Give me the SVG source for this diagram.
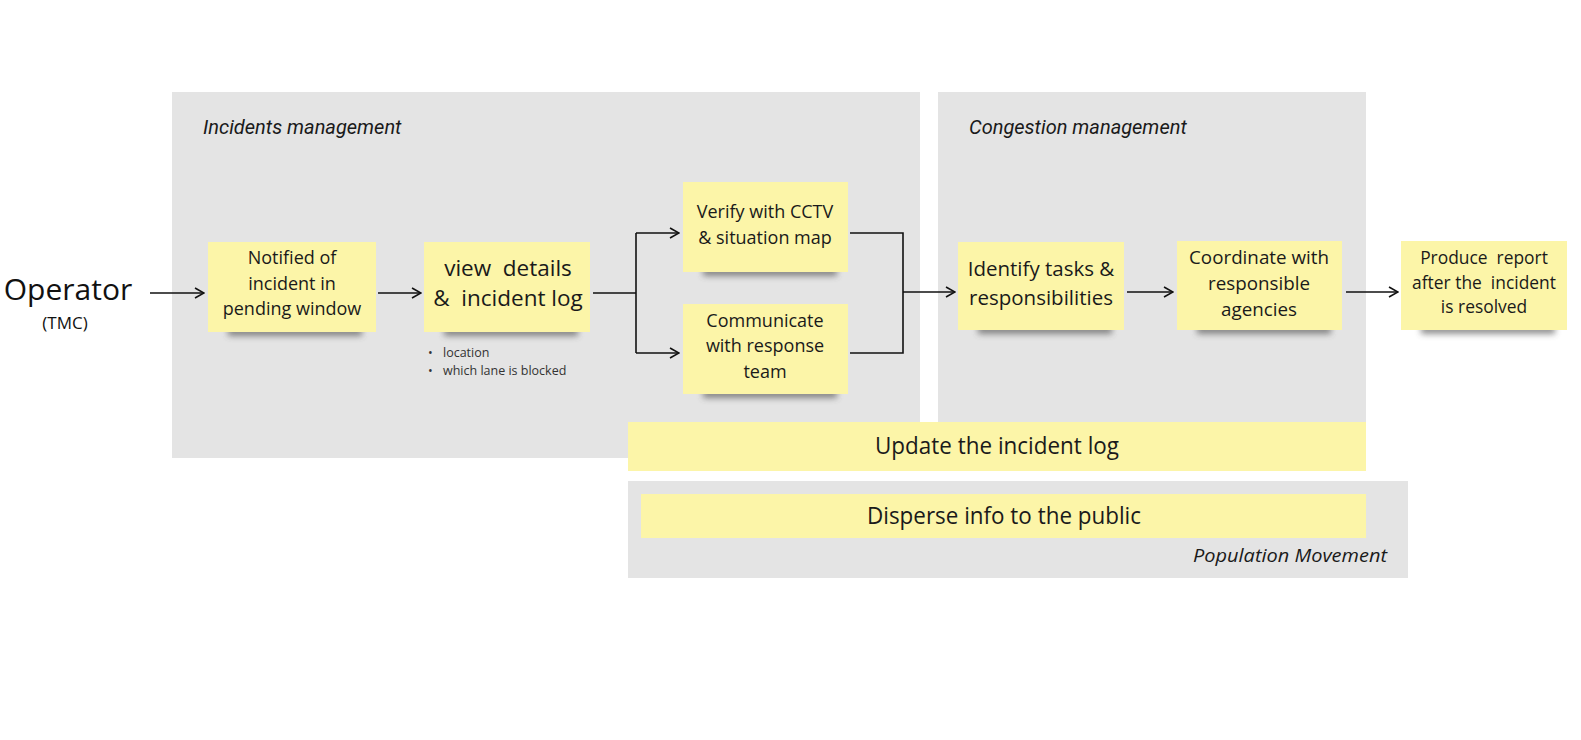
<svg xmlns="http://www.w3.org/2000/svg" width="1581" height="740" viewBox="0 0 1581 740">
<style>
.panel{fill:#e4e4e4}
.sticky{fill:#fcf5a8}
.st{font-family:"Open Sans","DejaVu Sans",sans-serif;fill:#1a1a1a;text-anchor:middle}
.lbl{font-family:Roboto,"Liberation Sans",sans-serif;font-style:italic;font-size:20px;fill:#1a1a1a}
.conn{fill:none;stroke:#111;stroke-width:1.6}
.shadow{fill:#444;opacity:0.6;filter:url(#blur)}
</style>
<defs>
<marker id="arr" viewBox="0 0 12 12" refX="11" refY="6" markerWidth="12" markerHeight="12" markerUnits="userSpaceOnUse" orient="auto">
<path d="M2,1 L11,6 L2,11" fill="none" stroke="#111" stroke-width="1.6"/>
</marker>
<filter id="blur" x="-20%" y="-100%" width="140%" height="300%"><feGaussianBlur stdDeviation="3"/></filter>
</defs>
<rect width="1581" height="740" fill="#ffffff"/>
<g id="panel-incidents">
<rect class="panel" x="172" y="92" width="748" height="366"/>
<text class="lbl" x="203" y="134">Incidents management</text>
</g>
<g id="panel-congestion">
<rect class="panel" x="938" y="92" width="428" height="330"/>
<text class="lbl" x="969" y="134">Congestion management</text>
</g>
<g id="panel-population">
<rect class="panel" x="628" y="481" width="780" height="97"/>
<text class="lbl" x="1387" y="562" text-anchor="end" style="font-family:'Open Sans',sans-serif;font-size:19px" textLength="194" lengthAdjust="spacingAndGlyphs">Population Movement</text>
</g>
<g id="operator">
<text x="68" y="300" style="font-family:'Open Sans',sans-serif;font-size:30px;fill:#111;text-anchor:middle">Operator</text>
<text x="65" y="329" style="font-family:'Open Sans',sans-serif;font-size:17px;fill:#111;text-anchor:middle">(TMC)</text>
</g>
<g id="notified">
<rect class="shadow" x="228" y="327" width="134" height="9"/>
<rect class="sticky" x="208" y="242" width="168" height="90"/>
<text class="st" font-size="18"><tspan x="292" y="264">Notified of</tspan><tspan x="292" y="290">incident in</tspan><tspan x="292" y="315">pending window</tspan></text>
</g>
<g id="view-details">
<rect class="shadow" x="444" y="327" width="134" height="9"/>
<rect class="sticky" x="424" y="242" width="166" height="90"/>
<text class="st" font-size="22.5" xml:space="preserve"><tspan x="508" y="276">view  details</tspan><tspan x="508" y="306">&amp;  incident log</tspan></text>
<text style="font-family:'Open Sans',sans-serif;font-size:12.5px;fill:#333"><tspan x="428" y="357">•</tspan><tspan x="443" y="357">location</tspan><tspan x="428" y="375">•</tspan><tspan x="443" y="375">which lane is blocked</tspan></text>
</g>
<g id="verify">
<rect class="shadow" x="703" y="267" width="134" height="9"/>
<rect class="sticky" x="683" y="182" width="165" height="90"/>
<text class="st" font-size="18"><tspan x="765" y="218">Verify with CCTV</tspan><tspan x="765" y="244">&amp; situation map</tspan></text>
</g>
<g id="communicate">
<rect class="shadow" x="703" y="389" width="134" height="9"/>
<rect class="sticky" x="683" y="304" width="165" height="90"/>
<text class="st" font-size="18"><tspan x="765" y="327">Communicate</tspan><tspan x="765" y="352">with response</tspan><tspan x="765" y="378">team</tspan></text>
</g>
<g id="identify">
<rect class="shadow" x="978" y="325" width="134" height="9"/>
<rect class="sticky" x="958" y="242" width="166" height="88"/>
<text class="st" font-size="20.5"><tspan x="1041" y="276">Identify tasks &amp;</tspan><tspan x="1041" y="305">responsibilities</tspan></text>
</g>
<g id="coordinate">
<rect class="shadow" x="1197" y="325" width="134" height="9"/>
<rect class="sticky" x="1177" y="241" width="165" height="89"/>
<text class="st" font-size="18.8"><tspan x="1259" y="264">Coordinate with</tspan><tspan x="1259" y="290">responsible</tspan><tspan x="1259" y="316">agencies</tspan></text>
</g>
<g id="produce">
<rect class="shadow" x="1421" y="325" width="134" height="9"/>
<rect class="sticky" x="1401" y="241" width="166" height="89"/>
<text class="st" font-size="17.4" xml:space="preserve"><tspan x="1484" y="264">Produce  report</tspan><tspan x="1484" y="289">after the  incident</tspan><tspan x="1484" y="313">is resolved</tspan></text>
</g>
<g id="update-log">
<rect class="sticky" x="628" y="422" width="738" height="49"/>
<text class="st" x="997" y="454" font-size="24" textLength="244" lengthAdjust="spacingAndGlyphs">Update the incident log</text>
</g>
<g id="disperse">
<rect class="sticky" x="641" y="494" width="725" height="44"/>
<text class="st" x="1004" y="524" font-size="24" textLength="274" lengthAdjust="spacingAndGlyphs">Disperse info to the public</text>
</g>
<g id="connectors">
<path class="conn" d="M150,293 H204" marker-end="url(#arr)"/>
<path class="conn" d="M378,293 H421" marker-end="url(#arr)"/>
<path class="conn" d="M593,293 H636"/>
<path class="conn" d="M636,233 V353"/>
<path class="conn" d="M636,233 H679" marker-end="url(#arr)"/>
<path class="conn" d="M636,353 H679" marker-end="url(#arr)"/>
<path class="conn" d="M850,233 H903 V353 H850"/>
<path class="conn" d="M903,292 H955" marker-end="url(#arr)"/>
<path class="conn" d="M1127,292 H1173" marker-end="url(#arr)"/>
<path class="conn" d="M1346,292 H1398" marker-end="url(#arr)"/>
</g>
</svg>
